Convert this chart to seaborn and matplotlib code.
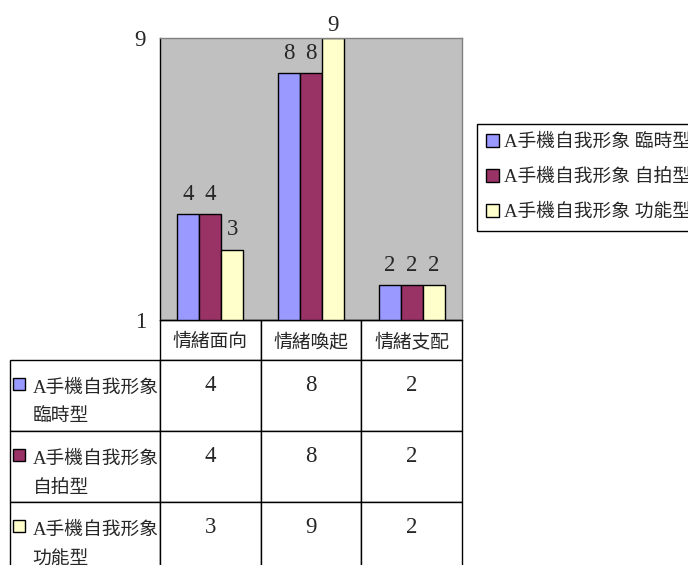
import numpy as np
import pandas as pd
import matplotlib
matplotlib.use("Agg")
import matplotlib.pyplot as plt
from matplotlib.patches import Patch, Rectangle
from matplotlib.transforms import Affine2D
import seaborn as sns

# Data
categories = ["情緒面向", "情緒喚起", "情緒支配"]
series_names = ["A手機自我形象 臨時型", "A手機自我形象 自拍型", "A手機自我形象 功能型"]
values_temp = [4, 8, 2]
values_selfie = [4, 8, 2]
values_func = [3, 9, 2]
series_colors = ["#9999FF", "#993366", "#FFFFCC"]
y_ticks = [1, 9]

sns.set_style("white")
plt.rcParams["font.family"] = ["Liberation Serif", "Noto Sans CJK TC"]

series_values = [values_temp, values_selfie, values_func]
df = pd.DataFrame({
    "category": categories * len(series_names),
    "series": np.repeat(series_names, len(categories)),
    "value": values_temp + values_selfie + values_func,
})

W, H = 688, 565
fig = plt.figure(figsize=(W / 100, H / 100), dpi=100)
ax_l, ax_r, ax_t, ax_b = 160, 462, 38, 320
ax_w_px, ax_h_px = ax_r - ax_l, ax_b - ax_t
ax = fig.add_axes([ax_l / W, 1 - ax_b / H, ax_w_px / W, ax_h_px / H])
ax.set_facecolor("#C0C0C0")

sns.barplot(data=df, x="category", y="value", hue="series",
            order=categories, hue_order=series_names, palette=series_colors,
            saturation=1, width=0.655, gap=0, edgecolor="black", linewidth=1,
            errorbar=None, legend=False, ax=ax)

num_size = 16.5
cjk_size = 13.5
for cont in ax.containers:
    anns = ax.bar_label(cont, fmt="%g", padding=6.5, fontsize=num_size)
    for ann, bar in zip(anns, cont):
        # keep the label of a bar reaching the top close to the frame
        if bar.get_height() >= y_ticks[-1]:
            ann.xyann = (0, 1.5)

ax.set_ylim(y_ticks[0], y_ticks[-1])
ax.set_yticks(y_ticks)
ax.set_yticklabels([str(t) for t in y_ticks], fontsize=num_size)
ax.set_xlim(-0.5, len(categories) - 0.5)
ax.set_xticks([])
ax.set_xlabel("")
ax.set_ylabel("")
ax.tick_params(axis="y", direction="in", length=4, width=1, color="black", pad=10)
for side in ("left", "bottom"):
    ax.spines[side].set_color("black")
    ax.spines[side].set_linewidth(1)
for side in ("top", "right"):
    ax.spines[side].set_color("#808080")
    ax.spines[side].set_linewidth(1)

# Data table under the plot area (first column holds the series names)
header_px, row_px, label_px = 40, 71, 150
header_h = header_px / ax_h_px
row_h = row_px / ax_h_px
label_w = label_px / ax_w_px
col_w = 1 / len(categories)
table_h = header_h + row_h * len(series_names)

table_rows = [[name.replace(" ", "\n")] + [f"{v}\n" for v in vals]
              for name, vals in zip(series_names, series_values)]
tbl = ax.table(cellText=table_rows, colLabels=[""] + categories,
               colWidths=[label_w] + [col_w] * len(categories),
               cellLoc="center", colLoc="center",
               bbox=[-label_w, -table_h, 1 + label_w, table_h])
tbl.auto_set_font_size(False)
for (r, c), cell in tbl.get_celld().items():
    cell.set_edgecolor("black")
    cell.set_linewidth(1)
    cell.set_facecolor("white")
    cell.set_width(label_w if c == 0 else col_w)
    cell.set_height(header_h if r == 0 else row_h)
    txt = cell.get_text()
    if r == 0 and c == 0:
        cell.visible_edges = ""
        cell.set_facecolor("none")
    elif c == 0:
        cell.PAD = 0.15
        txt.set_horizontalalignment("left")
        txt.set_fontsize(cjk_size)
        txt.set_linespacing(1.95)
        # series names sit a little below the cell middle
        txt.set_transform(Affine2D().translate(0, -7))
    elif r == 0:
        txt.set_fontsize(cjk_size)
        txt.set_transform(Affine2D().translate(0, -2))
    else:
        txt.set_fontsize(num_size)
        txt.set_transform(Affine2D().translate(0, -2))

# Colour keys inside the series-name cells
sw_px = 12
for i, col in enumerate(series_colors):
    top_px = ax_b + header_px + row_px * i + 18
    ax.add_patch(Rectangle(((13 - ax_l) / ax_w_px, (ax_b - top_px - sw_px) / ax_h_px),
                           sw_px / ax_w_px, sw_px / ax_h_px,
                           transform=ax.transAxes, facecolor=col, edgecolor="black",
                           linewidth=1, clip_on=False, zorder=5))

# Legend
handles = [Patch(facecolor=c, edgecolor="black", linewidth=1) for c in series_colors]
leg = ax.legend(handles, series_names, loc="upper left",
                bbox_to_anchor=(477 / W, 1 - 124 / H), bbox_transform=fig.transFigure,
                frameon=True, fancybox=False, framealpha=1, edgecolor="black",
                fontsize=cjk_size, handlelength=0.65, handleheight=0.7,
                handletextpad=0.3, labelspacing=0.95, borderpad=0.5, borderaxespad=0)
leg.get_frame().set_linewidth(1)

fig.savefig("out.png", dpi=100)
